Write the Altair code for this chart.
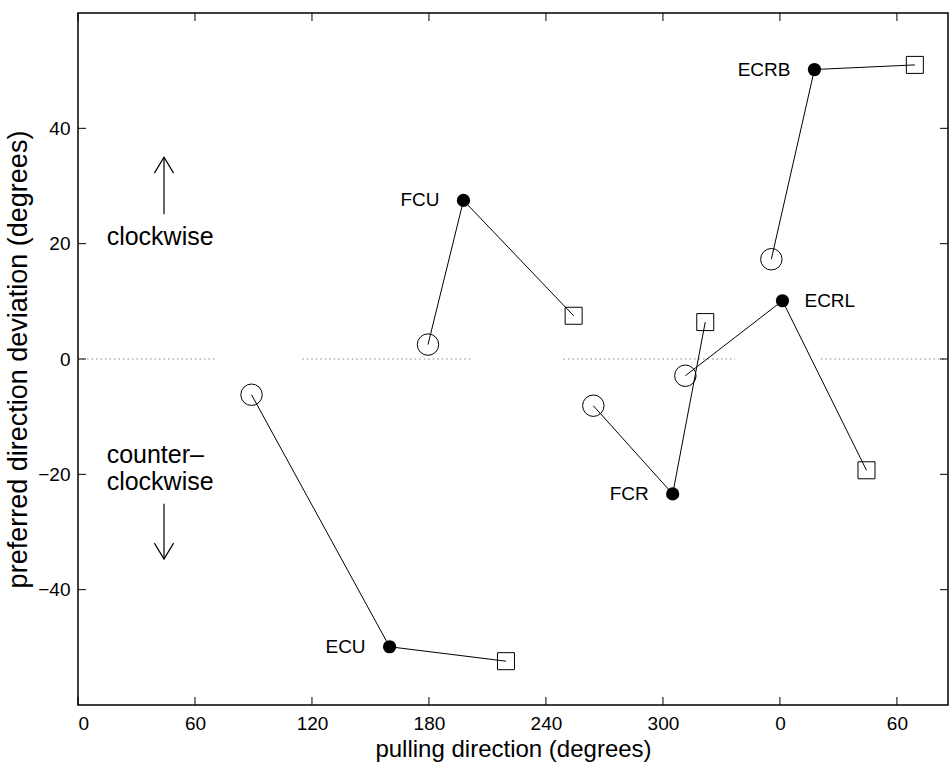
import altair as alt
import pandas as pd

# ---------------- data ----------------
muscles = ["ECU", "FCU", "FCR", "ECRL", "ECRB"]
circle_x = [89.0, 179.5, 264.3, 311.5, 355.6]
circle_y = [-6.2, 2.5, -8.1, -2.9, 17.3]
dot_x = [159.8, 197.7, 305.0, 361.3, 377.7]
dot_y = [-49.9, 27.5, -23.4, 10.1, 50.2]
square_x = [219.5, 254.2, 321.7, 404.4, 429.2]
square_y = [-52.4, 7.5, 6.4, -19.3, 51.0]
label_side = ["left", "left", "left", "right", "left"]

x_ticks = [0, 60, 120, 180, 240, 300, 360, 420]
y_ticks = [-40, -20, 0, 20, 40]

zero_start = [0, 115, 249, 381]
zero_end = [70, 202, 337, 446.2]

note_text = ["clockwise", "counter\u2013", "clockwise"]
note_x = [14.7, 14.7, 14.7]
note_y = [21.1, -16.6, -21.4]

arrow_x = [44.1, 44.1]
arrow_from = [25.1, -25.1]
arrow_to = [35.0, -34.7]
arrow_dir = ["up", "down"]

# ---------------- tables ----------------
rows = []
for i, m in enumerate(muscles):
    rows.append({"muscle": m, "kind": "circle", "o": 0, "x": circle_x[i], "y": circle_y[i]})
    rows.append({"muscle": m, "kind": "dot", "o": 1, "x": dot_x[i], "y": dot_y[i]})
    rows.append({"muscle": m, "kind": "square", "o": 2, "x": square_x[i], "y": square_y[i]})
pts = pd.DataFrame(rows)
labels = pd.DataFrame({"muscle": muscles, "x": dot_x, "y": dot_y, "side": label_side})
zero_df = pd.DataFrame({"x": zero_start, "x2": zero_end, "y": [0] * len(zero_start)})
notes = pd.DataFrame({"t": note_text, "x": note_x, "y": note_y})
arrows = pd.DataFrame({"x": arrow_x, "y": arrow_from, "y2": arrow_to, "dir": arrow_dir})
xt_df = pd.DataFrame({"v": x_ticks})
yt_df = pd.DataFrame({"v": y_ticks})

W, H = 870, 692
FONT = "Liberation Sans"
TICK = 8

xscale = alt.Scale(domain=[0, 446.2], nice=False, zero=False)
yscale = alt.Scale(domain=[-60, 60], nice=False, zero=False)

x_axis = alt.Axis(values=x_ticks,
                  labelExpr="datum.value >= 360 ? datum.value - 360 : datum.value",
                  ticks=False, domain=False, grid=False,
                  labelFont=FONT, labelFontSize=19, labelColor="black", labelPadding=9,
                  title="pulling direction (degrees)", titleFont=FONT, titleFontSize=24,
                  titleFontWeight="normal", titleColor="black", titlePadding=4)
y_axis = alt.Axis(values=y_ticks, ticks=False, domain=False, grid=False,
                  labelFont=FONT, labelFontSize=19, labelColor="black", labelPadding=8,
                  title="preferred direction deviation (degrees)", titleFont=FONT,
                  titleFontSize=27, titleFontWeight="normal", titleColor="black",
                  titlePadding=5)


def X(field="x"):
    return alt.X(f"{field}:Q", scale=xscale, axis=x_axis)


def Y(field="y"):
    return alt.Y(f"{field}:Q", scale=yscale, axis=y_axis)


zero_line = alt.Chart(zero_df).mark_rule(color="#888888", strokeWidth=1, strokeDash=[1.5, 3]).encode(
    x=X(), x2="x2:Q", y=Y())

lines = alt.Chart(pts).mark_line(color="black", strokeWidth=1).encode(
    x=X(), y=Y(), detail="muscle:N", order="o:Q")

circles = alt.Chart(pts).transform_filter("datum.kind == 'circle'").mark_point(
    shape="circle", filled=False, size=460, color="black", strokeWidth=1, opacity=1).encode(x=X(), y=Y())
squares = alt.Chart(pts).transform_filter("datum.kind == 'square'").mark_point(
    shape="square", filled=False, size=289, color="black", strokeWidth=1, opacity=1).encode(x=X(), y=Y())
dots = alt.Chart(pts).transform_filter("datum.kind == 'dot'").mark_point(
    shape="circle", filled=True, size=175, color="black", opacity=1).encode(x=X(), y=Y())

lab_left = alt.Chart(labels).transform_filter("datum.side == 'left'").mark_text(
    align="right", baseline="middle", dx=-24, font=FONT, fontSize=19, color="black").encode(
    x=X(), y=Y(), text="muscle:N")
lab_right = alt.Chart(labels).transform_filter("datum.side == 'right'").mark_text(
    align="left", baseline="middle", dx=22, font=FONT, fontSize=19, color="black").encode(
    x=X(), y=Y(), text="muscle:N")

note_layer = alt.Chart(notes).mark_text(
    align="left", baseline="middle", font=FONT, fontSize=25, color="black").encode(
    x=X(), y=Y(), text="t:N")

shafts = alt.Chart(arrows).mark_rule(color="black", strokeWidth=1.2).encode(
    x=X(), y=Y(), y2="y2:Q")
head_up = alt.Chart(arrows).transform_filter("datum.dir == 'up'").mark_point(
    shape="M -0.6 1 L 0 0 L 0.6 1", filled=False, size=1024, color="black",
    strokeWidth=1.2, opacity=1).encode(x=X(), y=Y("y2"))
head_down = alt.Chart(arrows).transform_filter("datum.dir == 'down'").mark_point(
    shape="M -0.6 -1 L 0 0 L 0.6 -1", filled=False, size=1024, color="black",
    strokeWidth=1.2, opacity=1).encode(x=X(), y=Y("y2"))

# inward ticks on all four sides
tick_style = dict(color="black", strokeWidth=1)
t_bottom = alt.Chart(xt_df).mark_rule(**tick_style).encode(
    x=X("v"), y=alt.value(H), y2=alt.value(H - TICK))
t_top = alt.Chart(xt_df).mark_rule(**tick_style).encode(
    x=X("v"), y=alt.value(0), y2=alt.value(TICK))
t_left = alt.Chart(yt_df).mark_rule(**tick_style).encode(
    y=Y("v"), x=alt.value(0), x2=alt.value(TICK))
t_right = alt.Chart(yt_df).mark_rule(**tick_style).encode(
    y=Y("v"), x=alt.value(W), x2=alt.value(W - TICK))

chart = alt.layer(
    zero_line, lines, circles, squares, dots, lab_left, lab_right,
    note_layer, shafts, head_up, head_down, t_bottom, t_top, t_left, t_right
).properties(
    width=W, height=H,
    autosize=alt.AutoSizeParams(type="none"),
    padding={"left": 78, "top": 13, "right": 1, "bottom": 57},
    background="white",
).configure_view(stroke="black", strokeWidth=1.5)

chart.save("out.html", embed_options={"renderer": "svg", "actions": False})
